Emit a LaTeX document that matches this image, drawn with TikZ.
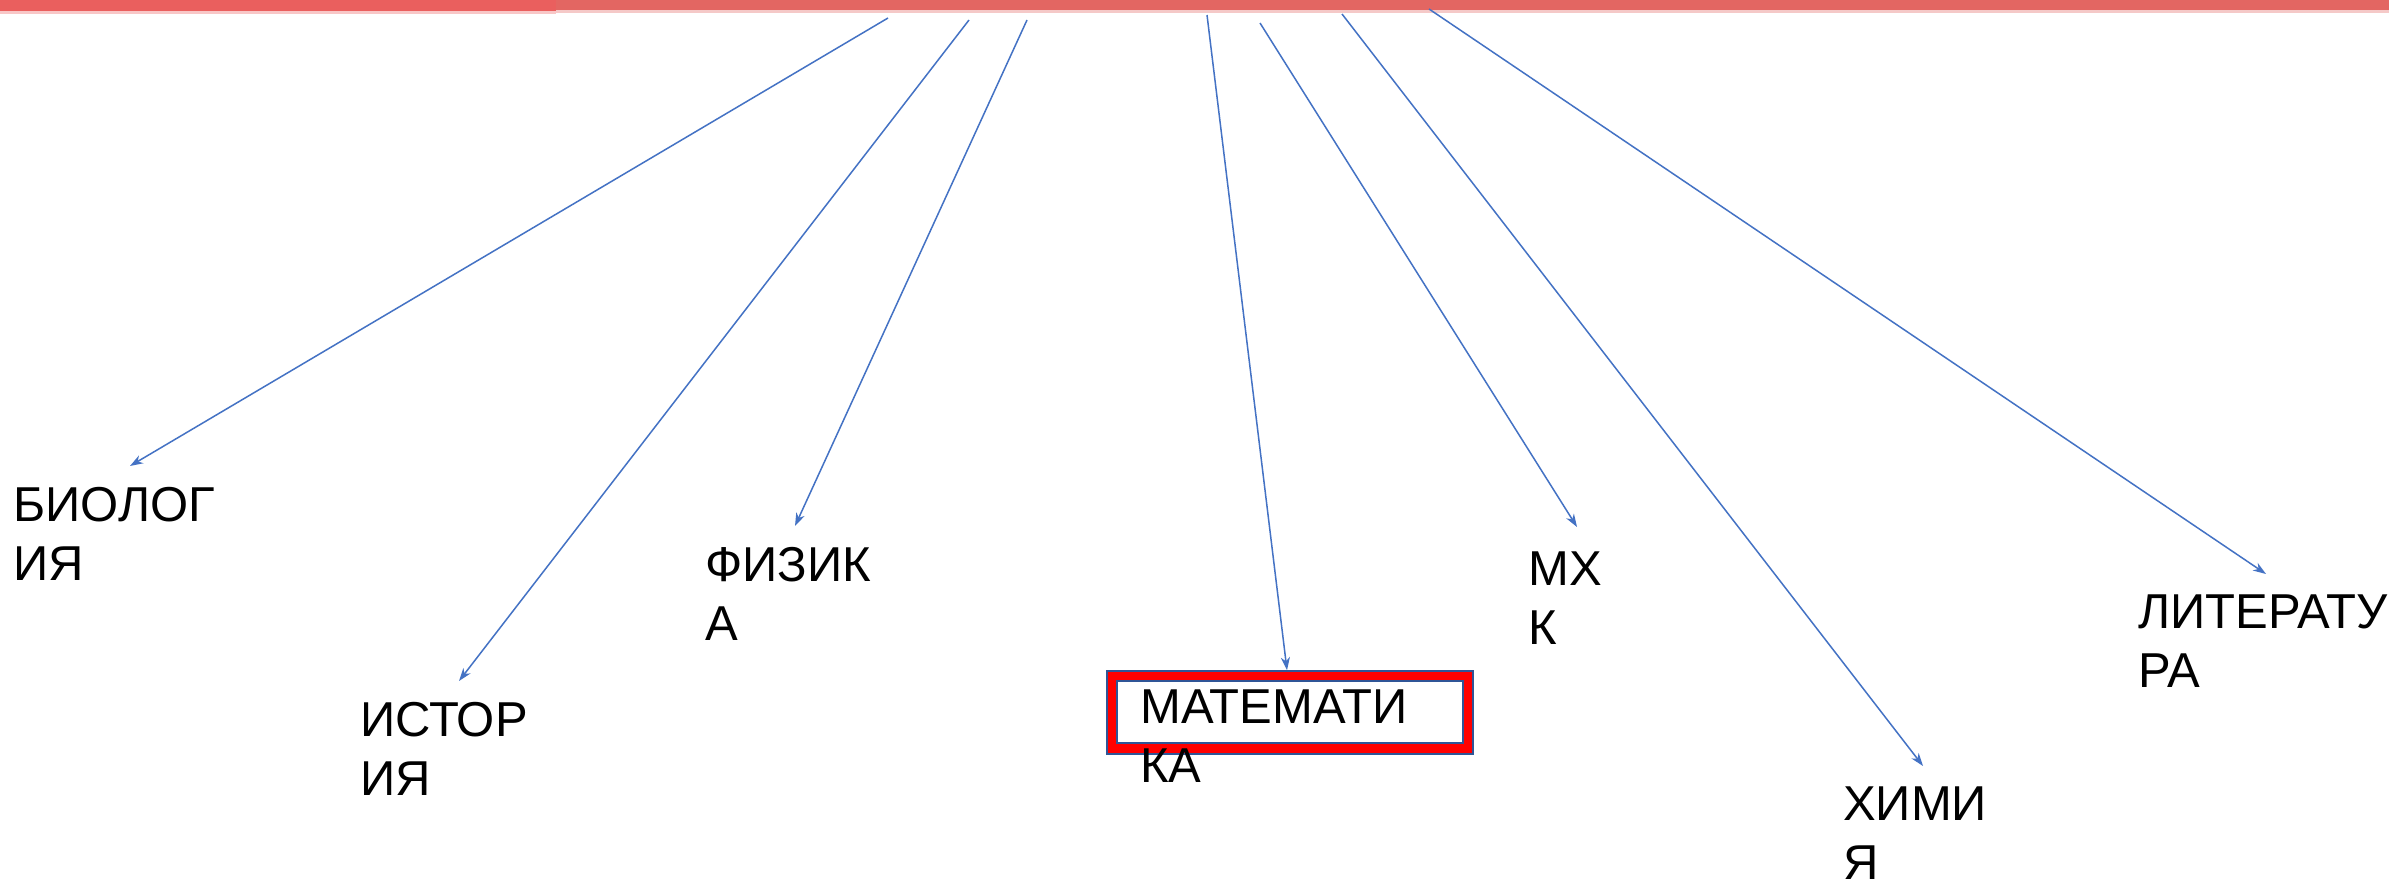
\documentclass[tikz,border=0pt]{standalone}
\usepackage{fontspec}
\setmainfont{Liberation Sans}
\usetikzlibrary{arrows.meta}
\definecolor{arrowblue}{HTML}{4472C4}
\definecolor{boxblue}{HTML}{2F5597}
\definecolor{barred}{HTML}{E36662}
\definecolor{barredl}{HTML}{EA5F5E}
\begin{document}
\begin{tikzpicture}[x=1pt,y=-1pt,
  subj/.style={anchor=north west, inner sep=0pt, align=left, text=black,
    font=\fontsize{49}{59}\selectfont},
  link/.style={draw=arrowblue, line width=1.5pt,
    -{Stealth[length=13pt,width=9pt,inset=4pt]}}]
\useasboundingbox[fill=white] (0,0) rectangle (2389,880);
% top bar
\fill[barredl!35] (0,0) rectangle (556,14);
\fill[barred!35] (556,0) rectangle (2389,13);
\fill[barredl] (0,0) rectangle (556,11);
\fill[barred] (556,0) rectangle (2389,10);
% subject labels
\node[subj] (bio)  at (13,487)   {БИОЛОГ\\ИЯ};
\node[subj] (hist) at (360,702)  {ИСТОР\\ИЯ};
\node[subj] (phys) at (705,547)  {ФИЗИК\\А};
\node[subj] (mhk)  at (1528,552) {МХ\\К};
\node[subj] (chem) at (1843,787) {ХИМИ\\Я};
\node[subj] (lit)  at (2138,595) {ЛИТЕРАТУ\\РА};
% math box
\node[rectangle, draw=boxblue, line width=1.5pt, fill=red,
  minimum width=366pt, minimum height=83pt, inner sep=0pt] (mathbox) at (1290,712.5) {};
\node[rectangle, draw=boxblue, line width=1.5pt, fill=white,
  minimum width=346pt, minimum height=62pt, inner sep=0pt] (mathinner) at (1290,712) {};
\node[subj] (math) at (1140,690) {МАТЕМАТИ\\КА};
% arrow start points
\coordinate (s1) at (888,18);
\coordinate (s2) at (969,20);
\coordinate (s3) at (1027,20);
\coordinate (s4) at (1207,15);
\coordinate (s5) at (1260,23);
\coordinate (s6) at (1342,14);
\coordinate (s7) at (1429,9);
% arrow tips
\coordinate (t1) at (130,466);
\coordinate (t2) at (459,681);
\coordinate (t3) at (795,526);
\coordinate (t5) at (1577,527);
\coordinate (t6) at (1923,766);
\coordinate (t7) at (2266,574);
\draw[link] (s1) -- (t1);
\draw[link] (s2) -- (t2);
\draw[link] (s3) -- (t3);
\draw[link] (s4) -- (mathbox.north -| 1287,0);
\draw[link] (s5) -- (t5);
\draw[link] (s6) -- (t6);
\draw[link] (s7) -- (t7);
\end{tikzpicture}
\end{document}
